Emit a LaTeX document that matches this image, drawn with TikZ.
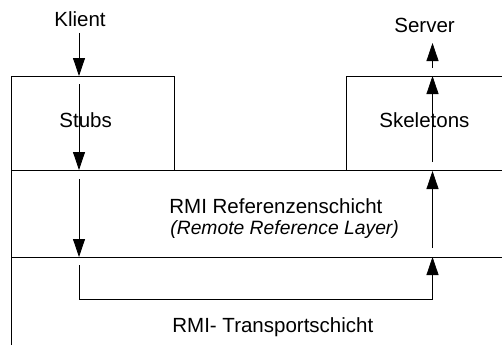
\documentclass[tikz,border=0pt]{standalone}
\usepackage{fontspec}
\setmainfont{Liberation Sans}
\usetikzlibrary{arrows.meta}
\begin{document}
\begin{tikzpicture}[x=1pt,y=-1pt, line width=0.8pt,
  arr/.style={-{Triangle[length=18pt,width=12pt]}},
  lbl/.style={font=\fontsize{20.5}{22}\selectfont, inner sep=0pt, anchor=base west},
  ilbl/.style={font=\fontsize{19.3}{21}\selectfont\itshape, inner sep=0pt, anchor=base west},
  layer/.style={draw, line width=0.8pt}]
\useasboundingbox (0,0) rectangle (502,345);
% texts
\node[lbl] (klient) at (54,27) {Klient};
\node[lbl] (server) at (394,32.5) {Server};
\node[lbl] (stubs) at (59,127) {Stubs};
\node[lbl] (skel) at (379,127) {Skeletons};
\node[lbl] (ref) at (169,213) {RMI Referenzenschicht};
\node[ilbl] (refen) at (170,234) {(Remote Reference Layer)};
\node[lbl] (trans) at (172,332) {RMI- Transportschicht};
% boxes and layer lines
\draw[layer] (11,345) -- (11,76) -- (174,76) -- (174,170);
\draw[layer] (503,76) -- (346,76) -- (346,170);
\draw[layer] (11,170) -- (503,170);
\draw[layer] (11,257) -- (503,257);
% coordinates
\coordinate (k0) at (79,33);
\coordinate (k1) at (79,76);
\coordinate (k2) at (79,84);
\coordinate (k3) at (79,170);
\coordinate (k4) at (79,179);
\coordinate (k5) at (79,257);
\coordinate (k6) at (79,265);
\coordinate (s6) at (432.5,257);
\coordinate (s5) at (432.5,248);
\coordinate (s4) at (432.5,171);
\coordinate (s3) at (432.5,162);
\coordinate (s2) at (432.5,76);
\coordinate (s1) at (432.5,68);
\coordinate (s0) at (432.5,43);
% arrows
\draw[arr] (k0) -- (k1);
\draw[arr] (k2) -- (k3);
\draw[arr] (k4) -- (k5);
\draw[arr] (k6) |- (432.5,299) -- (s6);
\draw[arr] (s5) -- (s4);
\draw[arr] (s3) -- (s2);
\draw[arr] (s1) -- (s0);
\end{tikzpicture}
\end{document}
